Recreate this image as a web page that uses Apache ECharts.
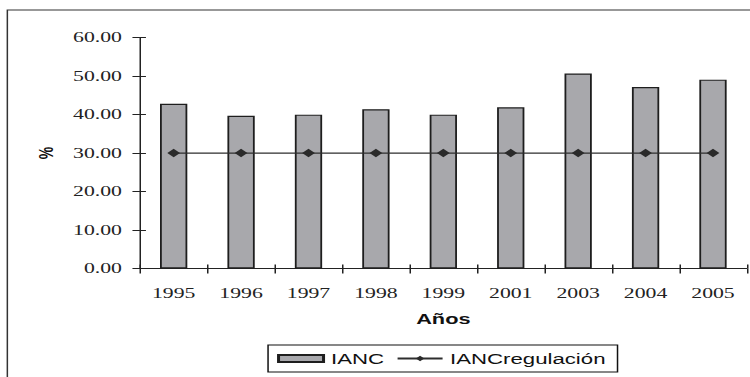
<!DOCTYPE html>
<html>
<head>
<meta charset="utf-8">
<script src="https://cdn.jsdelivr.net/npm/echarts@6/dist/echarts.min.js"></script>
<style>
  html, body { margin: 0; padding: 0; background: #fff; overflow: hidden; }
  #c { width: 500px; height: 377px; transform: scaleX(1.5); transform-origin: 0 0; }
</style>
</head>
<body>
<div id="c"></div>
<script>
// ---- data ----
var categories = ['1995', '1996', '1997', '1998', '1999', '2001', '2003', '2004', '2005'];
var ianc = [42.8, 39.7, 40.0, 41.4, 40.0, 41.9, 50.7, 47.2, 49.1];
var iancRegulacion = [30, 30, 30, 30, 30, 30, 30, 30, 30];
var seriesNames = ['IANC', 'IANCregulación'];
var yAxisTitle = '%';
var xAxisTitle = 'Años';

var chart = echarts.init(document.getElementById('c'), null, { renderer: 'svg' });

var serif = { fontFamily: 'Liberation Serif', fontSize: 14.5, color: '#222' };

chart.setOption({
  animation: false,
  backgroundColor: '#fff',
  graphic: [{
    type: 'rect',
    shape: { x: 4.9, y: 10, width: 600, height: 500 },
    style: { fill: 'none', stroke: '#333', lineWidth: 1 },
    silent: true
  }],
  grid: { left: 93.3, right: 2.2, top: 37.7, bottom: 108.5 },
  legend: {
    left: 178.7, top: 345,
    padding: [6, 8, 6, 6],
    itemGap: 8, itemWidth: 30, itemHeight: 7,
    borderColor: '#111', borderWidth: 1, borderRadius: 0,
    textStyle: { fontFamily: 'Liberation Sans', fontSize: 14.8, color: '#111' },
    data: [
      { name: seriesNames[0], icon: 'rect' },
      { name: seriesNames[1] }
    ]
  },
  xAxis: [{
    type: 'category', data: categories,
    boundaryGap: true,
    axisLine: { lineStyle: { color: '#222', width: 1 } },
    axisTick: { show: true, inside: false, length: 5, alignWithLabel: false, lineStyle: { color: '#222' } },
    axisLabel: Object.assign({ margin: 17, interval: 0 }, serif),
    name: xAxisTitle, nameLocation: 'middle', nameGap: 43,
    nameTextStyle: { fontFamily: 'Liberation Sans', fontWeight: 'bold', fontSize: 14.5, color: '#111' }
  }, {
    type: 'category', data: categories, position: 'bottom',
    boundaryGap: true,
    axisLine: { show: false },
    axisTick: { show: true, inside: true, length: 4, lineStyle: { color: '#222' } },
    axisLabel: { show: false }
  }],
  yAxis: [{
    type: 'value', min: 0, max: 60, interval: 10,
    axisLine: { show: true, lineStyle: { color: '#222', width: 1 } },
    axisTick: { show: true, inside: false, length: 5, lineStyle: { color: '#222' } },
    splitLine: { show: false },
    axisLabel: Object.assign({ margin: 12, formatter: function (v) { return v.toFixed(2); } }, serif),
    name: yAxisTitle, nameLocation: 'middle', nameGap: 56, nameRotate: 90,
    nameTextStyle: { fontFamily: 'Liberation Sans', fontWeight: 'bold', fontSize: 14, color: '#111' }
  }, {
    type: 'value', min: 0, max: 60, interval: 10, position: 'left',
    axisLine: { show: false },
    axisTick: { show: true, inside: true, length: 4, lineStyle: { color: '#222' } },
    splitLine: { show: false },
    axisLabel: { show: false }
  }],
  series: [{
    name: seriesNames[0], type: 'bar', data: ianc,
    xAxisIndex: 0, yAxisIndex: 0,
    barWidth: '40.5%',
    itemStyle: { color: '#a8a8ac', borderColor: '#1e1e1e', borderWidth: 1.2 }
  }, {
    name: seriesNames[1], type: 'line', data: iancRegulacion,
    xAxisIndex: 0, yAxisIndex: 0,
    symbol: 'diamond', symbolSize: 8.5, showSymbol: true,
    lineStyle: { color: '#2e2e2e', width: 1.3 },
    itemStyle: { color: '#2a2a2a' }
  }]
});
</script>
</body>
</html>
